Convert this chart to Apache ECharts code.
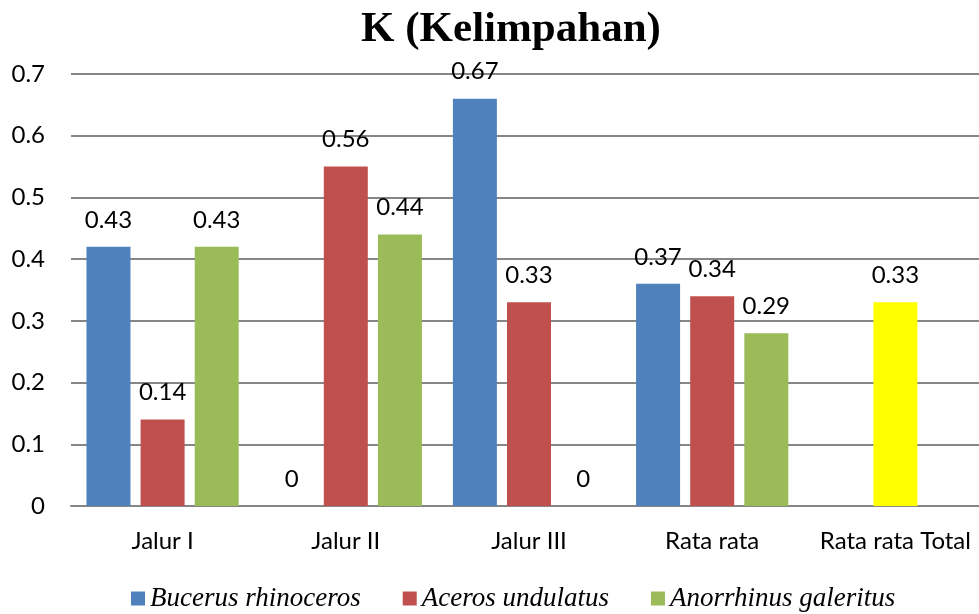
<!DOCTYPE html>
<html>
<head>
<meta charset="utf-8">
<script src="https://cdn.jsdelivr.net/npm/echarts@6/dist/echarts.min.js"></script>
<style>html,body{margin:0;padding:0;background:#fff;overflow:hidden;width:979px;height:614px}#c{width:987px;height:614px}</style>
</head>
<body>
<div id="c"></div>
<script>
const categories = ['Jalur I', 'Jalur II', 'Jalur III', 'Rata rata', 'Rata rata Total'];
const seriesNames = ['Bucerus rhinoceros', 'Aceros undulatus', 'Anorrhinus galeritus'];
const bucerusValues = [0.42, 0, 0.66, 0.36, null];
const acerosValues = [0.14, 0.55, 0.33, 0.34, 0.33];
const anorrhinusValues = [0.42, 0.44, 0, 0.28, null];
const bucerusLabels = ['0.43', '0', '0.67', '0.37', ''];
const acerosLabels = ['0.14', '0.56', '0.33', '0.34', '0.33'];
const anorrhinusLabels = ['0.43', '0.44', '0', '0.29', ''];
const yTicks = [0, 0.1, 0.2, 0.3, 0.4, 0.5, 0.6, 0.7];
const totalIndex = 4;

const colors = ['#4F81BD', '#C0504D', '#9BBB59'];
const totalColor = '#FFFF00';

function mk(name, vals, labels, color, special) {
  return {
    name: name,
    type: 'bar',
    barWidth: 44,
    barGap: '23%',
    itemStyle: { color: color },
    label: {
      show: true,
      position: 'top',
      distance: 15,
      fontFamily: 'Lato',
      fontSize: 24,
      color: '#000',
      formatter: p => labels[p.dataIndex]
    },
    data: vals.map((v, i) => (special && i === totalIndex) ? { value: v, itemStyle: { color: totalColor } } : v)
  };
}

const chart = echarts.init(document.getElementById('c'));
chart.setOption({
  animation: false,
  title: {
    text: 'K (Kelimpahan)',
    left: 506, top: 3, textAlign: 'center',
    textStyle: { fontFamily: 'Liberation Serif', fontWeight: 'bold', fontSize: 43, color: '#000' }
  },
  legend: {
    top: 585, left: 131,
    padding: 0,
    itemWidth: 14, itemHeight: 14, itemGap: 42,
    icon: 'rect',
    textStyle: { fontFamily: 'Liberation Serif', fontStyle: 'italic', fontSize: 27, color: '#000' },
    data: seriesNames
  },
  grid: { left: 71, right: 0, top: 74, bottom: 108 },
  xAxis: {
    type: 'category',
    data: categories,
    axisTick: { show: false },
    axisLine: { lineStyle: { color: '#868686', width: 2 } },
    axisLabel: { interval: 0, fontFamily: 'Lato', fontSize: 24, color: '#000', margin: 23 }
  },
  yAxis: {
    type: 'value',
    min: 0, max: 0.7, interval: 0.1,
    axisLine: { show: false },
    axisTick: { show: false },
    splitLine: { lineStyle: { color: '#868686', width: 2 } },
    axisLabel: {
      fontFamily: 'Lato', fontSize: 24, color: '#000', margin: 26,
      formatter: v => { const t = yTicks.find(x => Math.abs(x - v) < 1e-9); return t === 0 ? '0' : String(t); }
    }
  },
  series: [
    mk(seriesNames[0], bucerusValues, bucerusLabels, colors[0], false),
    mk(seriesNames[1], acerosValues, acerosLabels, colors[1], true),
    mk(seriesNames[2], anorrhinusValues, anorrhinusLabels, colors[2], false)
  ]
});
</script>
</body>
</html>
